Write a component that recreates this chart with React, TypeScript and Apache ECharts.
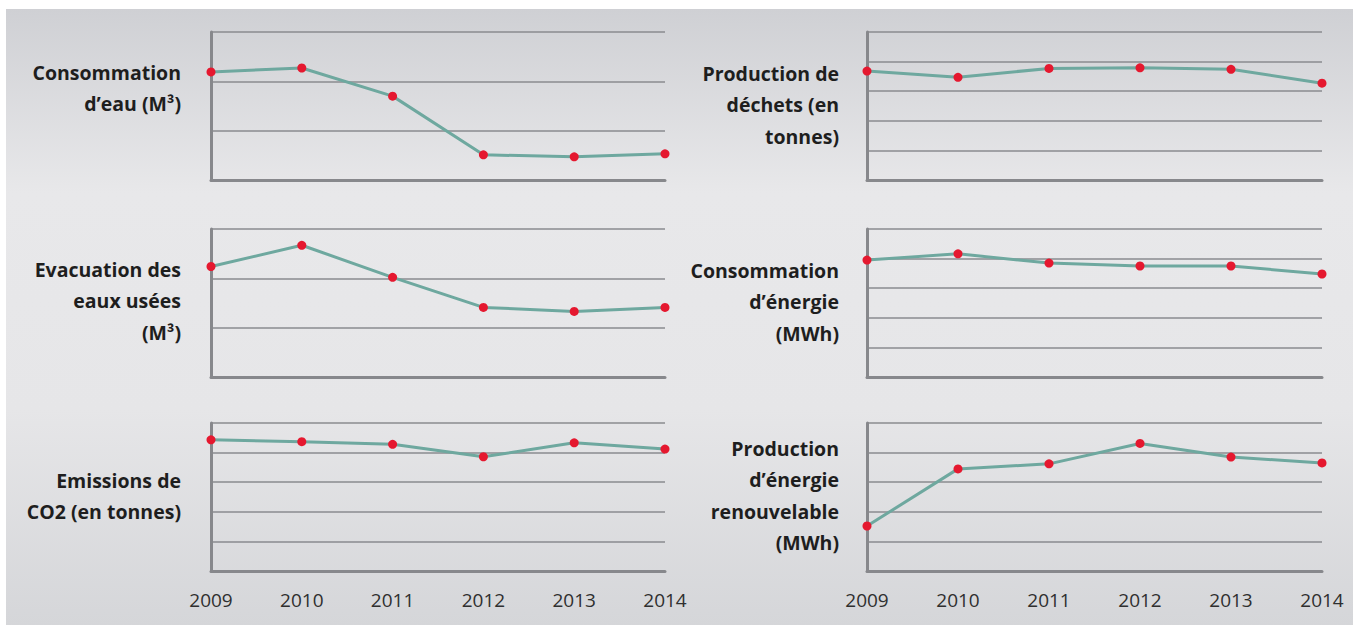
import React, { useEffect, useRef } from "react";
import * as echarts from "echarts";

const years = ["2009", "2010", "2011", "2012", "2013", "2014"];

const titles = [
  "Consommation\nd’eau (M³)",
  "Production de\ndéchets (en\ntonnes)",
  "Evacuation des\neaux usées\n(M³)",
  "Consommation\nd’énergie\n(MWh)",
  "Emissions de\nCO2 (en tonnes)",
  "Production\nd’énergie\nrenouvelable\n(MWh)",
];

const eauConso = [2.19, 2.27, 1.7, 0.51, 0.47, 0.53];
const dechets = [3.68, 3.47, 3.77, 3.79, 3.74, 3.27];
const eauxUsees = [2.24, 2.67, 2.02, 1.41, 1.33, 1.41];
const energieConso = [3.95, 4.16, 3.85, 3.75, 3.75, 3.48];
const co2 = [4.43, 4.37, 4.28, 3.86, 4.33, 4.12];
const energieRenouv = [1.52, 3.45, 3.62, 4.31, 3.85, 3.65];

const seriesData = [eauConso, dechets, eauxUsees, energieConso, co2, energieRenouv];
const yMax = [3, 5, 3, 5, 5, 5];

export default function App() {
  const ref = useRef<HTMLDivElement>(null);
  useEffect(() => {
    if (!ref.current) return;
    const chart = echarts.init(ref.current, null, { renderer: "svg" });

    const cols = [
      { left: 211, width: 454, textX: 181 },
      { left: 867, width: 455, textX: 839 },
    ];
    const rows = [
      { top: 32, height: 148 },
      { top: 229, height: 148 },
      { top: 423, height: 148 },
    ];
    const titleY = [
      [72, 73],
      [269, 270],
      [480, 448],
    ];

    const grids: any[] = [];
    const xAxes: any[] = [];
    const yAxes: any[] = [];
    const series: any[] = [];
    const graphics: any[] = [
      {
        type: "rect",
        z: -10,
        silent: true,
        shape: { x: 6, y: 9, width: 1347, height: 616 },
        style: {
          fill: new echarts.graphic.LinearGradient(0, 0, 0, 1, [
            { offset: 0, color: "#cfd0d4" },
            { offset: 0.3, color: "#e8e8ea" },
            { offset: 0.65, color: "#e6e6e8" },
            { offset: 1, color: "#d5d6d9" },
          ]),
        },
      },
    ];

    for (let i = 0; i < 6; i++) {
      const r = Math.floor(i / 2);
      const c = i % 2;
      const col = cols[c];
      const row = rows[r];
      grids.push({
        left: col.left,
        top: row.top,
        width: col.width,
        height: row.height,
        containLabel: false,
      });
      xAxes.push({
        type: "category",
        gridIndex: i,
        data: years,
        boundaryGap: false,
        axisLine: { show: true, lineStyle: { color: "#87888c", width: 3 } },
        axisTick: { show: false },
        axisLabel: {
          show: r === 2,
          color: "#2f2f2f",
          fontFamily: "Open Sans",
          fontSize: 19,
          margin: 19,
        },
        splitLine: { show: false },
      });
      yAxes.push({
        type: "value",
        gridIndex: i,
        min: 0,
        max: yMax[i],
        interval: 1,
        axisLine: { show: true, lineStyle: { color: "#87888c", width: 3 } },
        axisTick: { show: false },
        axisLabel: { show: false },
        splitLine: { show: true, lineStyle: { color: "#8a8b8f", width: 1.5 } },
      });
      series.push({
        type: "line",
        xAxisIndex: i,
        yAxisIndex: i,
        data: seriesData[i],
        symbol: "circle",
        symbolSize: 9,
        lineStyle: { color: "#6ea89f", width: 3 },
        itemStyle: { color: "#e5182f" },
        z: 5,
      });
      graphics.push({
        type: "text",
        x: col.textX,
        y: titleY[r][c] - 15.5,
        style: {
          text: titles[i],
          textAlign: "right",
          textVerticalAlign: "top",
          fontFamily: "Open Sans",
          fontWeight: "bold",
          fontSize: 19.5,
          lineHeight: 31.5,
          fill: "#1e1e1e",
        },
      });
    }

    chart.setOption({
      animation: false,
      backgroundColor: "#ffffff",
      grid: grids,
      xAxis: xAxes,
      yAxis: yAxes,
      series,
      graphic: graphics,
    });
    return () => chart.dispose();
  }, []);
  return (
    <div
      ref={ref}
      style={{ position: "fixed", left: 0, top: 0, width: 1358, height: 625 }}
    />
  );
}
